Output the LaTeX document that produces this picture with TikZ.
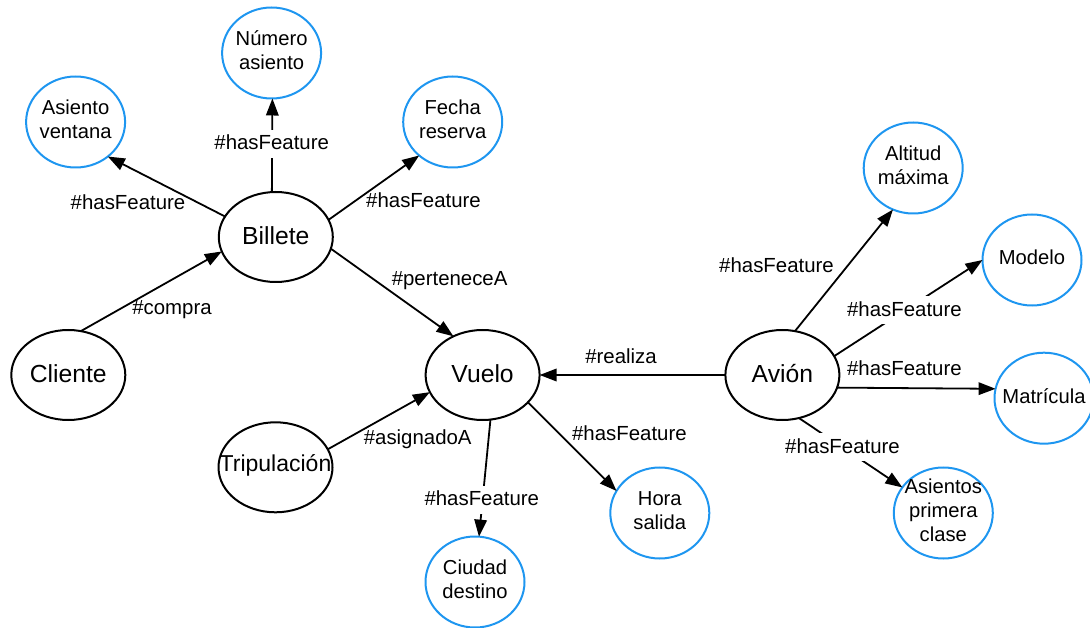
\documentclass[tikz,border=0pt]{standalone}
\usepackage{fontspec}
\setmainfont{Liberation Sans}
\usetikzlibrary{shapes.geometric,arrows.meta}
\definecolor{attrblue}{RGB}{30,150,240}

\begin{document}
\begin{tikzpicture}[x=1pt,y=-1pt,
  concept/.style={ellipse, draw=black, line width=2pt, minimum width=114pt,
    minimum height=90pt, inner sep=0pt, outer sep=0pt,
    label={[conceptxt]center:{#1}}},
  conceptxt/.style={font=\fontsize{24.7}{28}\selectfont, inner sep=0pt, yshift=1.5pt},
  attr/.style={ellipse, draw=attrblue, line width=2pt, minimum width=99pt,
    minimum height=91pt, inner sep=0pt, outer sep=0pt,
    label={[attrtxt]center:{#1}}},
  attrtxt/.style={font=\fontsize{20.2}{24}\selectfont, align=center, inner sep=0pt,
    yshift=2.5pt},
  rel/.style={line width=1.8pt, -{Triangle[length=17pt,width=12.5pt]}},
  lbl/.style={font=\fontsize{20.4}{24}\selectfont, anchor=base, inner sep=0pt,
    text height=15pt, text depth=3pt},
  lblcut/.style={lbl, fill=white, inner xsep=2pt, inner ysep=5pt},
]
\useasboundingbox (0,0) rectangle (1090,628);

% concepts
\node[concept=Billete] (billete) at (275.8,237) {};
\node[concept=Cliente] (cliente) at (68.3,375) {};
\node[concept=Vuelo] (vuelo) at (482.6,375) {};
\node[concept={\fontsize{23}{28}\selectfont Tripulación}] (trip) at (275.5,467.3) {};
\node[concept=Avión] (avion) at (782.4,375) {};

% features
\node[attr={Número\\asiento}] (numero) at (271.6,53) {};
\node[attr={Asiento\\ventana}] (ventana) at (75.6,122) {};
\node[attr={Fecha\\reserva}] (fecha) at (452.7,122) {};
\node[attr={Altitud\\máxima}] (altitud) at (913.2,168) {};
\node[attr=Modelo] (modelo) at (1032,260) {};
\node[attr=Matrícula] (matricula) at (1044,398.2) {};
\node[attr={Asientos\\primera\\clase}] (primera) at (943.3,513) {};
\node[attr={Hora\\salida}] (hora) at (659.8,513) {};
\node[attr={Ciudad\\destino}] (ciudad) at (475,582) {};

% relations
\draw[rel] (cliente.74) -- (billete.195);
\draw[rel] (billete.158) -- (ventana.313);
\draw[rel] (billete.95) -- (numero.271);
\draw[rel] (billete.18) -- (fecha.225);
\draw[rel] (billete.348) -- (vuelo.127);
\draw[rel] (trip.19) -- (vuelo.198);
\draw[rel] (vuelo.280) -- (ciudad.85);
\draw[rel] (vuelo.329) -- (hora.153);
\draw[rel] (avion.180) -- (vuelo.0);
\draw[rel] (avion.74) -- (altitud.244);
\draw[rel] (avion.20) -- (modelo.180);
\draw[rel] (avion.347) -- (matricula.169);
\draw[rel] (avion.291) -- (primera.148);

% relation labels
\node[lbl] (l-compra) at (172,315) {\#compra};
\node[lbl] (l-ventana) at (128,210) {\#hasFeature};
\node[lblcut] (l-numero) at (271.7,150) {\#hasFeature};
\node[lbl] (l-fecha) at (423.5,208) {\#hasFeature};
\node[lbl] (l-pertenece) at (449.6,286) {\#perteneceA};
\node[lbl] (l-asignado) at (417.7,444) {\#asignadoA};
\node[lblcut] (l-ciudad) at (481.8,505.7) {\#hasFeature};
\node[lbl] (l-hora) at (629.4,440) {\#hasFeature};
\node[lbl] (l-realiza) at (621,363.3) {\#realiza};
\node[lbl] (l-altitud) at (776.5,272.7) {\#hasFeature};
\node[lblcut] (l-modelo) at (904.4,316.5) {\#hasFeature};
\node[lbl] (l-matricula) at (904.4,375.7) {\#hasFeature};
\node[lblcut] (l-primera) at (842.5,453.3) {\#hasFeature};
\end{tikzpicture}
\end{document}
